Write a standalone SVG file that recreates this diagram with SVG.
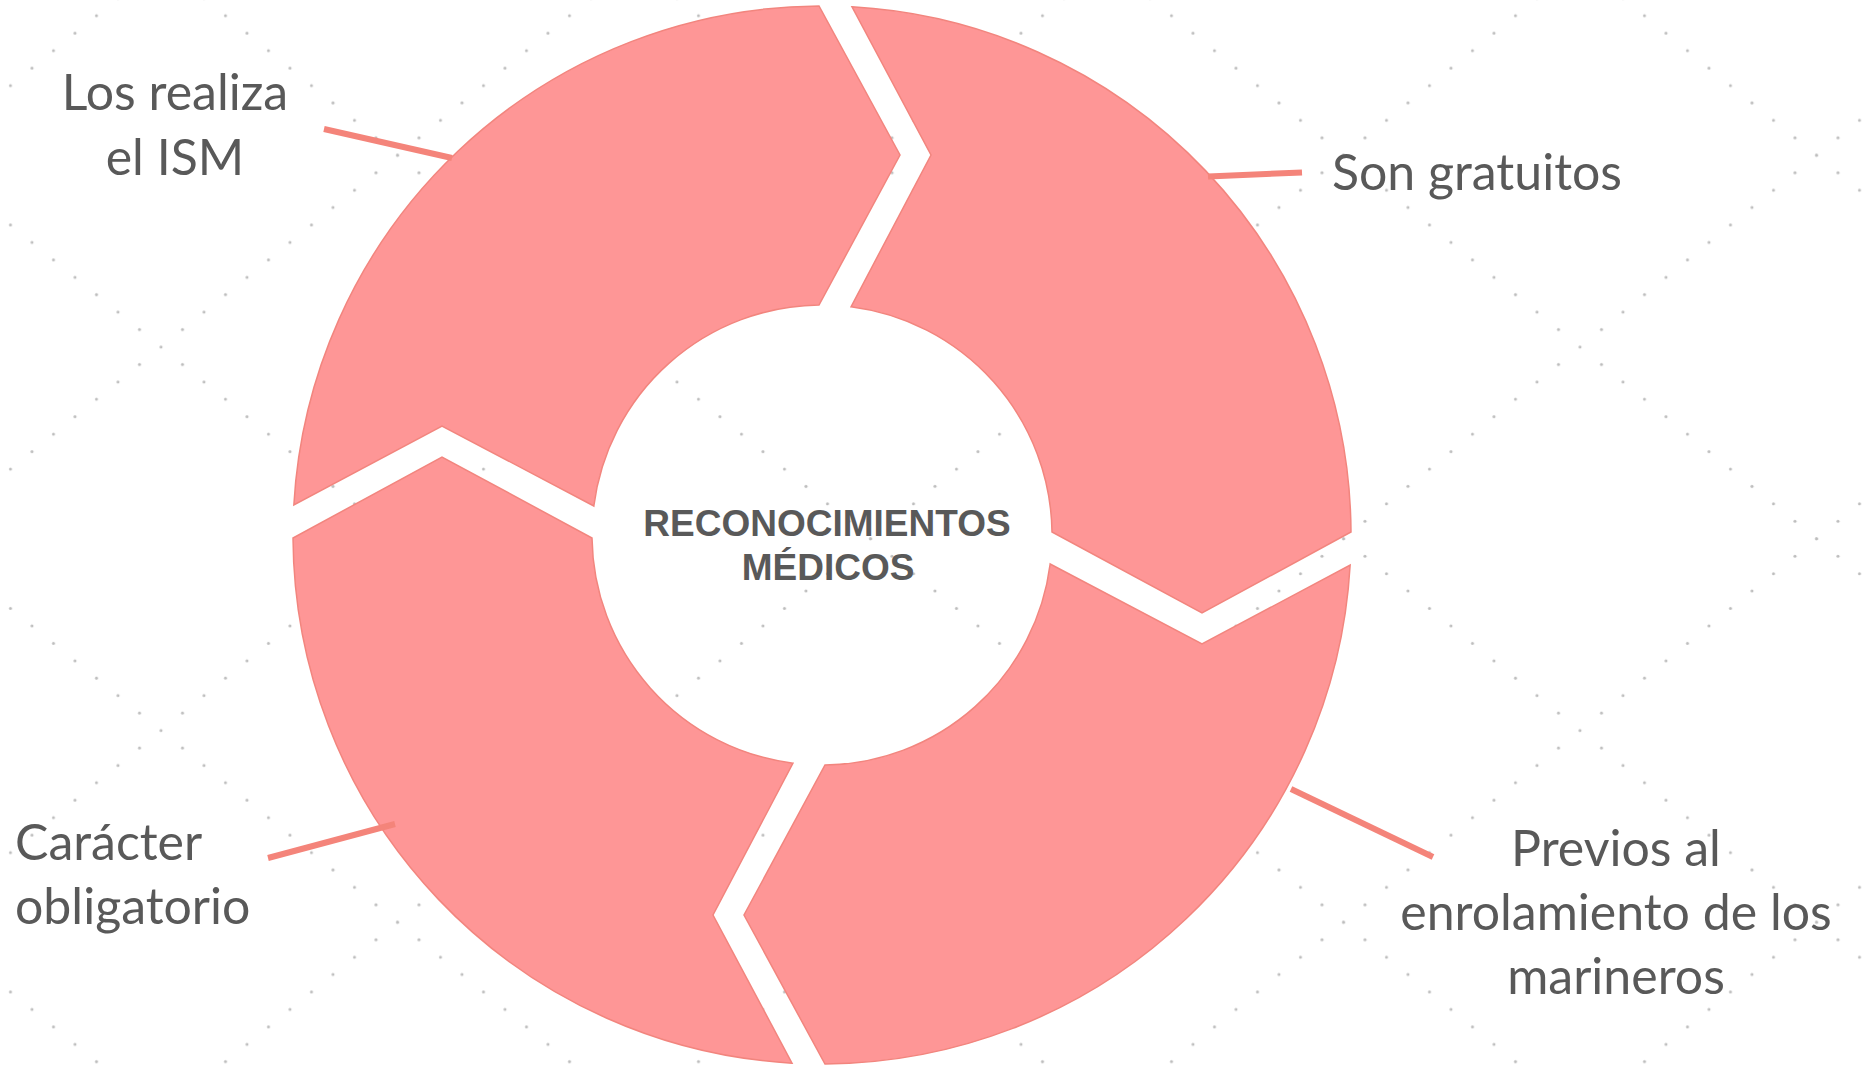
<svg xmlns="http://www.w3.org/2000/svg" xmlns:xlink="http://www.w3.org/1999/xlink" width="1865" height="1065" viewBox="0 0 1865 1065">
<style>
.seg{fill:#FE9696;stroke:#F2857E;stroke-width:1.5}
.lbl{font-family:Lato,"Open Sans","Liberation Sans",sans-serif;font-size:50px;fill:#595959}
.ctr{font-family:"Liberation Sans",Arial,sans-serif;font-size:37px;font-weight:bold;fill:#595959}
.con{stroke:#F4847A;stroke-width:6;fill:none}
</style>
<defs>
<g id="pl" fill="#BDBDBD">
<circle cx="10.75" cy="8.72" r="1.5"/><circle cx="32.25" cy="26.15" r="1.5"/><circle cx="53.75" cy="43.58" r="1.5"/><circle cx="75.25" cy="61.02" r="1.5"/><circle cx="96.75" cy="78.45" r="1.5"/><circle cx="118.25" cy="95.88" r="1.5"/><circle cx="139.75" cy="113.31" r="1.5"/><circle cx="161.25" cy="130.74" r="1.5"/><circle cx="182.75" cy="148.18" r="1.5"/><circle cx="204.25" cy="165.61" r="1.5"/><circle cx="225.75" cy="183.04" r="1.5"/><circle cx="247.25" cy="200.47" r="1.5"/><circle cx="268.75" cy="217.9" r="1.5"/><circle cx="290.25" cy="235.34" r="1.5"/><circle cx="311.75" cy="252.77" r="1.5"/><circle cx="333.25" cy="270.2" r="1.5"/><circle cx="354.75" cy="287.63" r="1.5"/><circle cx="376.25" cy="305.06" r="1.5"/><circle cx="397.75" cy="322.5" r="1.5"/><circle cx="419.25" cy="339.93" r="1.5"/><circle cx="440.75" cy="357.36" r="1.5"/><circle cx="462.25" cy="374.79" r="1.5"/>
</g>
<pattern id="dots" patternUnits="userSpaceOnUse" x="150.25" y="338.28" width="473" height="383.5">
<use xlink:href="#pl"/>
<use xlink:href="#pl" transform="matrix(1 0 0 -1 0 400.94)"/>
</pattern>
<path id="segshape" d="M 30 -528.15 A 529 529 0 0 1 529 -3 L 380 78 L 230 -3 A 230 230 0 0 0 29 -228.16 L 109 -380 Z"/>
</defs>
<rect width="1865" height="1065" fill="#FFFFFF"/>
<rect width="1865" height="1065" fill="url(#dots)"/>
<g id="node-son-gratuitos">
<use class="seg" xlink:href="#segshape" transform="translate(822 535)"/>
<text class="lbl" x="1332" y="190">Son gratuitos</text>
</g>
<g id="node-previos">
<use class="seg" xlink:href="#segshape" transform="translate(822 535) rotate(90)"/>
<text class="lbl" text-anchor="middle" x="1616" y="866">Previos al</text>
<text class="lbl" text-anchor="middle" x="1616" y="930">enrolamiento de los</text>
<text class="lbl" text-anchor="middle" x="1616" y="994">marineros</text>
</g>
<g id="node-caracter">
<use class="seg" xlink:href="#segshape" transform="translate(822 535) rotate(180)"/>
<text class="lbl" x="15" y="860">Carácter</text>
<text class="lbl" x="15" y="924">obligatorio</text>
</g>
<g id="node-ism">
<use class="seg" xlink:href="#segshape" transform="translate(822 535) rotate(270)"/>
<text class="lbl" text-anchor="middle" x="175" y="110">Los realiza</text>
<text class="lbl" text-anchor="middle" x="175" y="175">el ISM</text>
</g>
<g id="node-center">
<text class="ctr" text-anchor="middle" x="827" y="536">RECONOCIMIENTOS</text>
<text class="ctr" text-anchor="middle" x="828" y="580">MÉDICOS</text>
</g>
<g id="connectors">
<line class="con" x1="324" y1="129" x2="452" y2="158"/>
<line class="con" x1="1208" y1="176.5" x2="1302" y2="172.5"/>
<line class="con" x1="268" y1="858" x2="395" y2="824"/>
<line class="con" x1="1291" y1="789" x2="1433" y2="857"/>
</g>
</svg>
